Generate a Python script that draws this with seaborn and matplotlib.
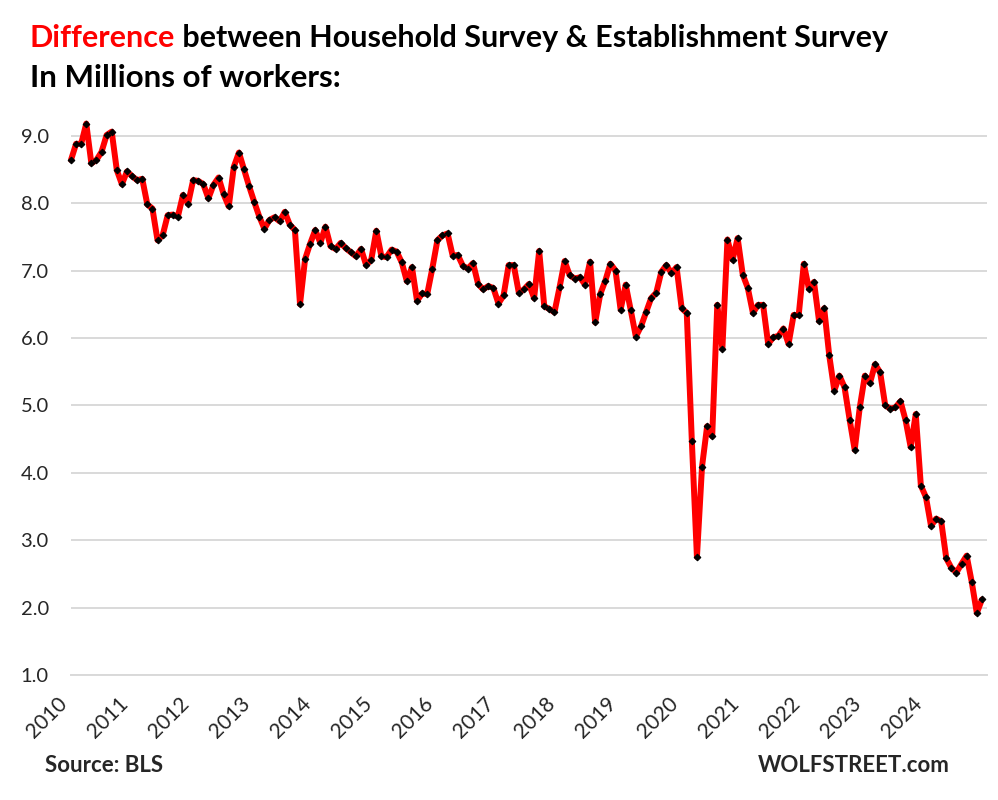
import numpy as np
import pandas as pd
import matplotlib
matplotlib.use('Agg')
import matplotlib.pyplot as plt
import matplotlib.transforms as mtransforms
import seaborn as sns

# Household survey minus establishment survey, millions, monthly Jan 2010 - Dec 2024
y2010 = [8.64, 8.88, 8.88, 9.18, 8.59, 8.64, 8.76, 9.01, 9.06, 8.49, 8.28, 8.47]
y2011 = [8.40, 8.34, 8.36, 7.98, 7.92, 7.45, 7.52, 7.82, 7.83, 7.80, 8.12, 7.99]
y2012 = [8.34, 8.33, 8.28, 8.07, 8.27, 8.38, 8.13, 7.95, 8.54, 8.75, 8.50, 8.25]
y2013 = [8.02, 7.80, 7.62, 7.75, 7.79, 7.73, 7.87, 7.68, 7.60, 6.50, 7.17, 7.40]
y2014 = [7.60, 7.41, 7.65, 7.36, 7.32, 7.41, 7.33, 7.27, 7.21, 7.32, 7.08, 7.16]
y2015 = [7.59, 7.21, 7.20, 7.31, 7.28, 7.12, 6.84, 7.05, 6.55, 6.66, 6.65, 7.03]
y2016 = [7.45, 7.52, 7.55, 7.22, 7.23, 7.07, 7.03, 7.11, 6.80, 6.72, 6.77, 6.74]
y2017 = [6.51, 6.63, 7.08, 7.08, 6.67, 6.72, 6.80, 6.59, 7.29, 6.47, 6.43, 6.38]
y2018 = [6.75, 7.14, 6.93, 6.88, 6.90, 6.79, 7.13, 6.23, 6.65, 6.85, 7.10, 7.00]
y2019 = [6.42, 6.79, 6.41, 6.02, 6.17, 6.38, 6.59, 6.67, 6.98, 7.08, 6.96, 7.05]
y2020 = [6.44, 6.37, 4.47, 2.75, 4.09, 4.69, 4.54, 6.49, 5.84, 7.46, 7.16, 7.48]
y2021 = [6.94, 6.74, 6.37, 6.49, 6.49, 5.91, 6.01, 6.03, 6.14, 5.91, 6.34, 6.34]
y2022 = [7.10, 6.73, 6.83, 6.25, 6.44, 5.74, 5.22, 5.44, 5.27, 4.79, 4.34, 4.97]
y2023 = [5.44, 5.33, 5.61, 5.49, 5.00, 4.95, 4.97, 5.06, 4.78, 4.38, 4.87, 3.81]
y2024 = [3.64, 3.21, 3.32, 3.28, 2.73, 2.59, 2.52, 2.65, 2.77, 2.38, 1.92, 2.12]

year_labels = [str(y) for y in range(2010, 2025)]
y_ticks = [1, 2, 3, 4, 5, 6, 7, 8, 9]

values = (y2010 + y2011 + y2012 + y2013 + y2014 + y2015 + y2016 + y2017
          + y2018 + y2019 + y2020 + y2021 + y2022 + y2023 + y2024)
df = pd.DataFrame({'month': np.arange(len(values)), 'diff': values})

sns.set_theme(style='white')
plt.rcParams['font.family'] = ['Lato', 'DejaVu Sans']

fig = plt.figure(figsize=(9.98, 8), dpi=100)
ax = fig.add_axes([71 / 998, 125 / 800, 916 / 998, 573 / 800])

sns.lineplot(data=df, x='month', y='diff', ax=ax, color='#ff0000', lw=4.3,
             marker='D', markersize=3.4, markerfacecolor='black',
             markeredgecolor='black', clip_on=False, zorder=3)

ax.set_xlim(0, 180)
ax.set_ylim(1, 9.5)
ax.set_yticks(y_ticks)
ax.set_yticklabels([f'{v:.1f}' for v in y_ticks], fontsize=14.5)
ax.set_xticks(np.arange(0, 181, 12))
ax.set_xticklabels(year_labels + [''], rotation=45, ha='right', fontsize=15)
ax.set_xlabel('')
ax.set_ylabel('')

# nudge the rotated year labels a little to the right, like the original
shift = mtransforms.ScaledTranslation(6 / 100, 0, fig.dpi_scale_trans)
for lab in ax.get_xticklabels():
    lab.set_transform(lab.get_transform() + shift)

ax.yaxis.grid(True, color='#d9d9d9', lw=1.4)
ax.xaxis.grid(False)
for s in ['top', 'right', 'left']:
    ax.spines[s].set_visible(False)
ax.spines['bottom'].set_color('#d9d9d9')
ax.spines['bottom'].set_linewidth(1.4)
ax.tick_params(axis='x', direction='out', length=7, width=1.4, color='#d9d9d9', pad=6)
ax.tick_params(axis='y', length=0, pad=16)
ax.set_axisbelow(True)

# title, first word in red
t1 = fig.text(30 / 998, 1 - 47 / 800, 'Difference', color='#ff0000',
              fontsize=22, fontweight='bold', va='baseline')
fig.canvas.draw()
bb = t1.get_window_extent()
fig.text(bb.x1 / 998, 1 - 47 / 800, ' between Household Survey & Establishment Survey',
         color='black', fontsize=22, fontweight='bold', va='baseline')
fig.text(30 / 998, 1 - 87 / 800, 'In Millions of workers:', color='black',
         fontsize=22.5, fontweight='bold', va='baseline')

fig.text(45 / 998, 1 - 772 / 800, 'Source: BLS', fontsize=16, fontweight='bold', va='baseline')
fig.text(950 / 998, 1 - 772 / 800, 'WOLFSTREET.com', fontsize=16, fontweight='bold',
         va='baseline', ha='right')

fig.savefig('out.png', dpi=100)
